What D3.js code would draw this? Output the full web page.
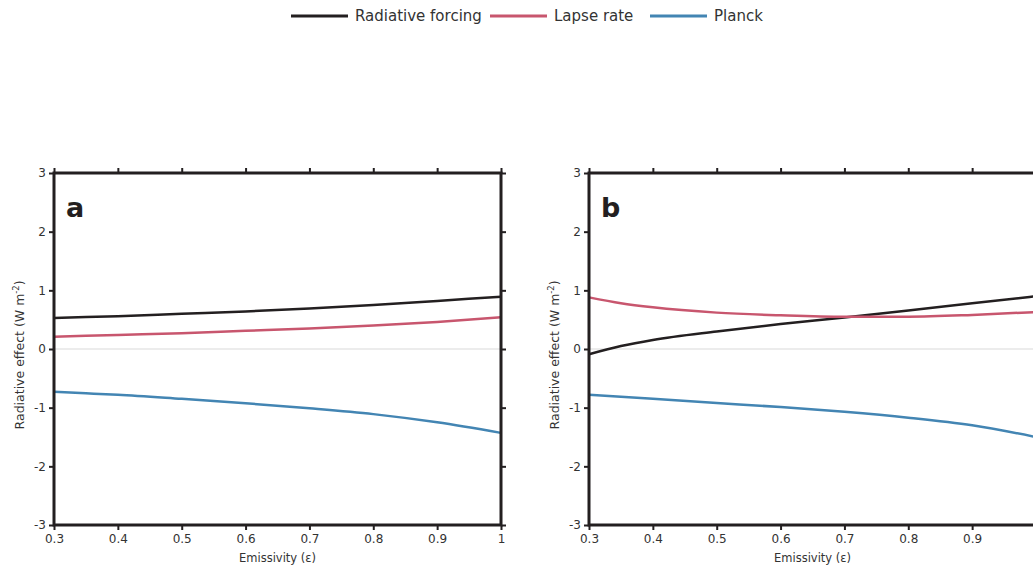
<!DOCTYPE html>
<html>
<head>
<meta charset="utf-8">
<script src="https://cdn.jsdelivr.net/npm/d3@7"></script>
<style>
  body { margin: 0; background: #fff; }
  svg { display: block; font-family: "DejaVu Sans", sans-serif; }
</style>
</head>
<body>
<script>
const emissivity = [0.3, 0.35, 0.4, 0.5, 0.6, 0.7, 0.8, 0.9, 1.0];

// panel a
const aForcing = [0.53, 0.545, 0.56, 0.60, 0.64, 0.69, 0.75, 0.82, 0.89];
const aLapse   = [0.21, 0.225, 0.24, 0.27, 0.31, 0.35, 0.40, 0.46, 0.54];
const aPlanck  = [-0.73, -0.755, -0.78, -0.85, -0.925, -1.01, -1.11, -1.25, -1.43];

// panel b
const bForcing = [-0.09, 0.05, 0.155, 0.30, 0.425, 0.535, 0.655, 0.78, 0.90];
const bLapse   = [0.88, 0.78, 0.71, 0.62, 0.575, 0.55, 0.55, 0.58, 0.63];
const bPlanck  = [-0.78, -0.815, -0.85, -0.92, -0.99, -1.07, -1.17, -1.30, -1.50];

const seriesNames = ["Radiative forcing", "Lapse rate", "Planck"];
const seriesColors = ["#231f20", "#c8566e", "#4385b3"];
const xTicks = [0.3, 0.4, 0.5, 0.6, 0.7, 0.8, 0.9, 1];
const yTicks = [-3, -2, -1, 0, 1, 2, 3];

const width = 1033, height = 569;
const svg = d3.select("body").append("svg")
    .attr("width", width)
    .attr("height", height);

const textColor = "#333";

// legend
const legendItems = [
    {x: 291, name: seriesNames[0], color: seriesColors[0]},
    {x: 490, name: seriesNames[1], color: seriesColors[1]},
    {x: 650, name: seriesNames[2], color: seriesColors[2]}
];
const legend = svg.append("g").attr("class", "legend");
legendItems.forEach(d => {
    legend.append("line")
        .attr("x1", d.x).attr("x2", d.x + 57)
        .attr("y1", 16).attr("y2", 16)
        .attr("stroke", d.color).attr("stroke-width", 3);
    legend.append("text")
        .attr("x", d.x + 64).attr("y", 21)
        .attr("fill", textColor)
        .style("font-size", "15px")
        .text(d.name);
});

function drawPanel(left, label, series, lastLabel) {
    const top = 173, bottom = 525, w = 447;
    const x = d3.scaleLinear().domain([0.3, 1]).range([left, left + w]);
    const y = d3.scaleLinear().domain([-3, 3]).range([bottom, top]);
    const g = svg.append("g");

    // zero line
    g.append("line")
        .attr("x1", x(0.3)).attr("x2", x(1))
        .attr("y1", y(0)).attr("y2", y(0))
        .attr("stroke", "#e6e6e6").attr("stroke-width", 1.5);

    const line = d3.line()
        .x((d, i) => x(emissivity[i]))
        .y(d => y(d))
        .curve(d3.curveMonotoneX);

    series.forEach((vals, k) => {
        g.append("path")
            .datum(vals)
            .attr("fill", "none")
            .attr("stroke", seriesColors[k])
            .attr("stroke-width", 2.5)
            .attr("d", line);
    });

    // axes: ticks outward on all sides
    const fmtX = d => d === 1 ? (lastLabel ? "1" : "") : d3.format(".1f")(d);
    const fmtY = d => String(d);
    const xb = g.append("g")
        .attr("transform", `translate(0,${bottom})`)
        .call(d3.axisBottom(x).tickValues(xTicks).tickFormat(fmtX).tickSize(5).tickPadding(4));
    const xt = g.append("g")
        .attr("transform", `translate(0,${top})`)
        .call(d3.axisTop(x).tickValues(xTicks).tickFormat("").tickSize(5));
    const yl = g.append("g")
        .attr("transform", `translate(${left},0)`)
        .call(d3.axisLeft(y).tickValues(yTicks).tickFormat(fmtY).tickSize(5).tickPadding(3));
    const yr = g.append("g")
        .attr("transform", `translate(${left + w},0)`)
        .call(d3.axisRight(y).tickValues(yTicks).tickFormat("").tickSize(5));

    [xb, xt, yl, yr].forEach(a => {
        a.select(".domain").remove();
        a.selectAll(".tick line").attr("stroke", "#231f20").attr("stroke-width", 2);
        a.selectAll(".tick text")
            .attr("fill", textColor)
            .style("font-size", "12px")
            .style("font-family", "DejaVu Sans, sans-serif");
    });

    // frame
    g.append("rect")
        .attr("x", left).attr("y", top)
        .attr("width", w).attr("height", bottom - top)
        .attr("fill", "none")
        .attr("stroke", "#231f20").attr("stroke-width", 3);

    // panel letter
    g.append("text")
        .attr("x", left + 12).attr("y", top + 44)
        .attr("fill", "#231f20")
        .style("font-size", "27px").style("font-weight", "bold")
        .text(label);

    // axis titles
    g.append("text")
        .attr("x", x(0.65)).attr("y", 562)
        .attr("text-anchor", "middle")
        .attr("fill", textColor)
        .style("font-size", "11.5px")
        .text("Emissivity (ε)");

    const yt = g.append("text")
        .attr("transform", `translate(${left - 30},${y(-0.1)}) rotate(-90)`)
        .attr("text-anchor", "middle")
        .attr("fill", textColor)
        .style("font-size", "12.5px");
    yt.append("tspan").text("Radiative effect (W m");
    yt.append("tspan").attr("dy", -5).style("font-size", "8.5px").text("-2");
    yt.append("tspan").attr("dy", 5).text(")");
}

drawPanel(54, "a", [aForcing, aLapse, aPlanck], true);
drawPanel(589, "b", [bForcing, bLapse, bPlanck], false);
</script>
</body>
</html>
